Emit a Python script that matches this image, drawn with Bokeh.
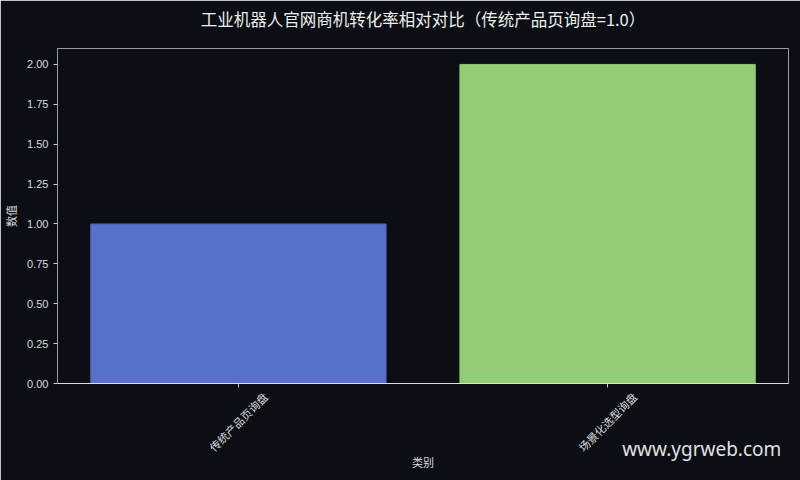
import math

from bokeh.embed import file_html
from bokeh.models import (ColumnDataSource, CustomJSTickFormatter, FixedTicker, LinearAxis,
                          NumeralTickFormatter, Range1d)
from bokeh.plotting import figure
from bokeh.resources import INLINE

categories = ["传统产品页询盘", "场景化选型询盘"]
values = [1.0, 2.0]
y_ticks = [0.0, 0.25, 0.5, 0.75, 1.0, 1.25, 1.5, 1.75, 2.0]
title = "工业机器人官网商机转化率相对对比（传统产品页询盘=1.0）"
watermark = "www.ygrweb.com"

BG = "#0b0e14"
BAR_COLORS = ["#5672c8", "#93cc76"]
EDGE_COLORS = ["#4a62b2", "#8cc872"]
TEXT = "#dcdcdc"
CJK = "Noto Sans CJK SC"
LABEL_SHIFT = 0.073   # rotated labels are anchored at their end, shift so they centre on the bar
WM_X = 1.255
X_MIN, X_MAX = -0.49, len(categories) - 0.51

xs = list(range(len(categories)))
src = ColumnDataSource(dict(x=xs, top=values, cat=categories, color=BAR_COLORS, edge=EDGE_COLORS))

p = figure(
    width=800, height=480,
    x_range=Range1d(X_MIN, X_MAX),
    y_range=Range1d(0, 2.1),
    output_backend="svg", toolbar_location=None, tools="",
    background_fill_color=BG, border_fill_color=BG,
    min_border_left=56, min_border_right=12, min_border_top=48, min_border_bottom=97,
)

p.vbar(x="x", top="top", width=0.8, source=src, fill_color="color", line_color="edge")

p.outline_line_color = "#9a9a9a"
p.xgrid.visible = False
p.ygrid.visible = False

p.yaxis.ticker = FixedTicker(ticks=y_ticks)
p.yaxis.formatter = NumeralTickFormatter(format="0.00")
p.yaxis.axis_label = "数值"
p.yaxis.axis_line_color = "#9a9a9a"
p.yaxis.major_label_text_font = "Liberation Sans"
p.yaxis.major_label_text_font_size = "11px"
p.yaxis.major_label_text_color = TEXT
p.yaxis.axis_label_text_color = TEXT
p.yaxis.axis_label_text_font = CJK
p.yaxis.axis_label_text_font_size = "11px"
p.yaxis.axis_label_text_font_style = "normal"
p.yaxis.minor_tick_line_color = None
p.yaxis.major_tick_in = 0
p.yaxis.major_tick_out = 4
p.yaxis.major_tick_line_color = "#cccccc"

# x axis: line and tick marks only
p.xaxis.ticker = FixedTicker(ticks=xs)
p.xaxis.formatter = CustomJSTickFormatter(code="return ''")
p.xaxis.major_label_standoff = 0
p.xaxis.axis_line_color = "#e0e0e0"
p.xaxis.minor_tick_line_color = None
p.xaxis.major_tick_in = 0
p.xaxis.major_tick_out = 4
p.xaxis.major_tick_line_color = "#cccccc"

# rotated category labels + axis title
label_ticks = [round(x + LABEL_SHIFT, 3) for x in xs]
cat_axis = LinearAxis(
    ticker=FixedTicker(ticks=label_ticks),
    major_label_overrides={t: c for t, c in zip(label_ticks, categories)},
    major_label_orientation=math.pi / 4,
    major_label_standoff=7,
    major_label_text_font=CJK, major_label_text_font_size="11px", major_label_text_color=TEXT,
    axis_line_color=None, major_tick_line_color=None, minor_tick_line_color=None,
    major_tick_in=0, major_tick_out=0,
    axis_label="类别", axis_label_standoff=-9,
    axis_label_text_font=CJK, axis_label_text_font_size="11px",
    axis_label_text_font_style="normal", axis_label_text_color=TEXT,
)
p.add_layout(cat_axis, "below")

# watermark
wm_axis = LinearAxis(
    ticker=FixedTicker(ticks=[WM_X]),
    major_label_overrides={WM_X: watermark},
    major_label_standoff=-38,
    major_label_text_font="Noto Sans", major_label_text_font_size="19px",
    major_label_text_color="#e0e0e0",
    axis_line_color=None, major_tick_line_color=None, minor_tick_line_color=None,
    major_tick_in=0, major_tick_out=0,
)
p.add_layout(wm_axis, "below")

# chart title, centred over the frame
title_x = (X_MIN + X_MAX) / 2
title_axis = LinearAxis(
    ticker=FixedTicker(ticks=[title_x]),
    major_label_overrides={title_x: title},
    major_label_standoff=18,
    major_label_text_font=CJK, major_label_text_font_size="16.5px",
    major_label_text_color="#eeeeee",
    axis_line_color=None, major_tick_line_color=None, minor_tick_line_color=None,
    major_tick_in=0, major_tick_out=0,
)
p.add_layout(title_axis, "above")

open("out.html", "w").write(file_html(p, INLINE))
